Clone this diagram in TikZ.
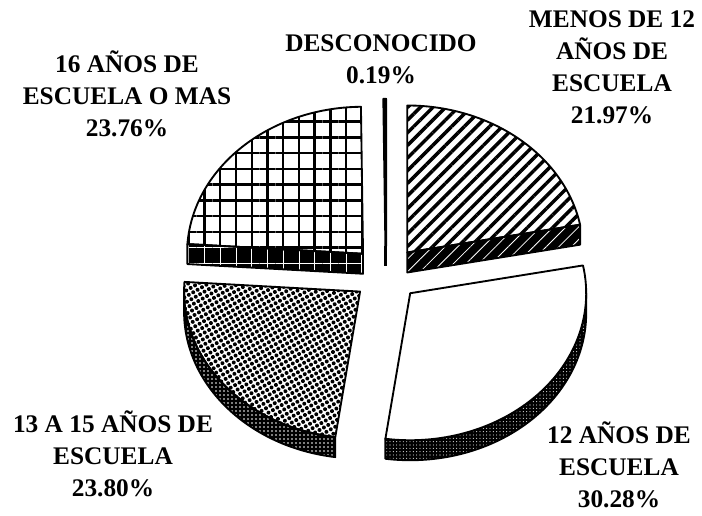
\documentclass[tikz,border=0pt]{standalone}
\usepackage{fontspec}
\setmainfont{Liberation Serif}
\usetikzlibrary{calc}
\usetikzlibrary{patterns.meta}
\tikzstyle{topface} = [draw, line width=1.4pt, line join=round]
\tikzstyle{sideface} = [draw, line width=1.4pt, line join=round, preaction={fill=black}]
\tikzstyle{tag} = [align=center, inner sep=0pt, font=\bfseries\fontsize{19}{24}\selectfont]
\tikzstyle{rim} = [x radius=176, y radius=147]

\begin{document}
\begin{tikzpicture}[x=0.75pt, y=0.75pt]
    \useasboundingbox (0,0) rectangle (702,515);
    % centro del pastel
    \coordinate (C) at (386,241);
    % vertice de cada rebanada, separado del centro
    \coordinate (A1) at ($(C)+(50.454:33.4 and 27.9)$);
    \coordinate (A2) at ($(C)+(-43.596:33.4 and 27.9)$);
    \coordinate (A3) at ($(C)+(-140.94:33.4 and 27.9)$);
    \coordinate (A4) at ($(C)+(133.452:33.4 and 27.9)$);
    \coordinate (A5) at ($(C)+(90.342:33.4 and 27.9)$);
    % 16 años de escuela o mas
    \draw [sideface, pattern={Hatch[angle=0, distance=11.8pt, line width=0.6pt]}, pattern color=white] (A4) -- ++(176.22:176 and 147) -- ++(0,-20) -- ($(A4)+(0,-20)$) -- cycle;
    \draw [topface, pattern={Hatch[angle=0, distance=11.8pt, line width=1.8pt]}] (A4) -- ++(176.22:176 and 147) arc[rim, start angle=176.22, end angle=90.684] -- cycle;
    % desconocido
    \draw [topface, fill=black, line width=2pt] (A5) -- ++(90.684:176 and 147) arc[rim, start angle=90.684, end angle=90] -- cycle;
    \draw [line width=2pt] (A5) -- ++(0,-20);
    % menos de 12 años
    \draw [sideface, pattern={Lines[angle=45, distance=6.7pt, line width=0.6pt]}, pattern color=white] (A1) -- ++(10.908:176 and 147) -- ++(0,-20) -- ($(A1)+(0,-20)$) -- cycle;
    \draw [topface, pattern={Lines[angle=45, distance=6.7pt, line width=2.6pt]}] (A1) -- ++(10.908:176 and 147) arc[rim, start angle=10.908, end angle=90] -- cycle;
    % 13 a 15 años
    \draw [sideface, pattern={Dots[distance=3pt, radius=0.6pt]}, pattern color=white] ($(A3)+(-180:176 and 147)$) arc[rim, start angle=-180, end angle=-98.1] -- ++(0,-20) arc[rim, start angle=-98.1, end angle=-180] -- cycle;
    \draw [topface, pattern={Dots[distance=3.8pt, radius=1.5pt, angle=30]}] (A3) -- ++(-98.1:176 and 147) arc[rim, start angle=-98.1, end angle=-183.78] -- cycle;
    % 12 años
    \draw [sideface, pattern={Dots[distance=2.5pt, radius=0.4pt]}, pattern color=white] ($(A2)+(-98.1:176 and 147)$) arc[rim, start angle=-98.1, end angle=0] -- ++(0,-20) arc[rim, start angle=0, end angle=-98.1] -- cycle;
    \draw [topface, fill=white] (A2) -- ++(10.908:176 and 147) arc[rim, start angle=10.908, end angle=-98.1] -- cycle;
    % etiquetas
    \node [tag] (L16) at (127,421) {16 AÑOS DE\\ESCUELA O MAS\\23.76\%};
    \node [tag] (Ldesc) at (381,456) {DESCONOCIDO\\0.19\%};
    \node [tag] (Lmenos) at (612,448) {MENOS DE 12\\AÑOS DE\\ESCUELA\\21.97\%};
    \node [tag] (L1315) at (113,61) {13 A 15 AÑOS DE\\ESCUELA\\23.80\%};
    \node [tag] (L12) at (619,50) {12 AÑOS DE\\ESCUELA\\30.28\%};
\end{tikzpicture}
\end{document}
